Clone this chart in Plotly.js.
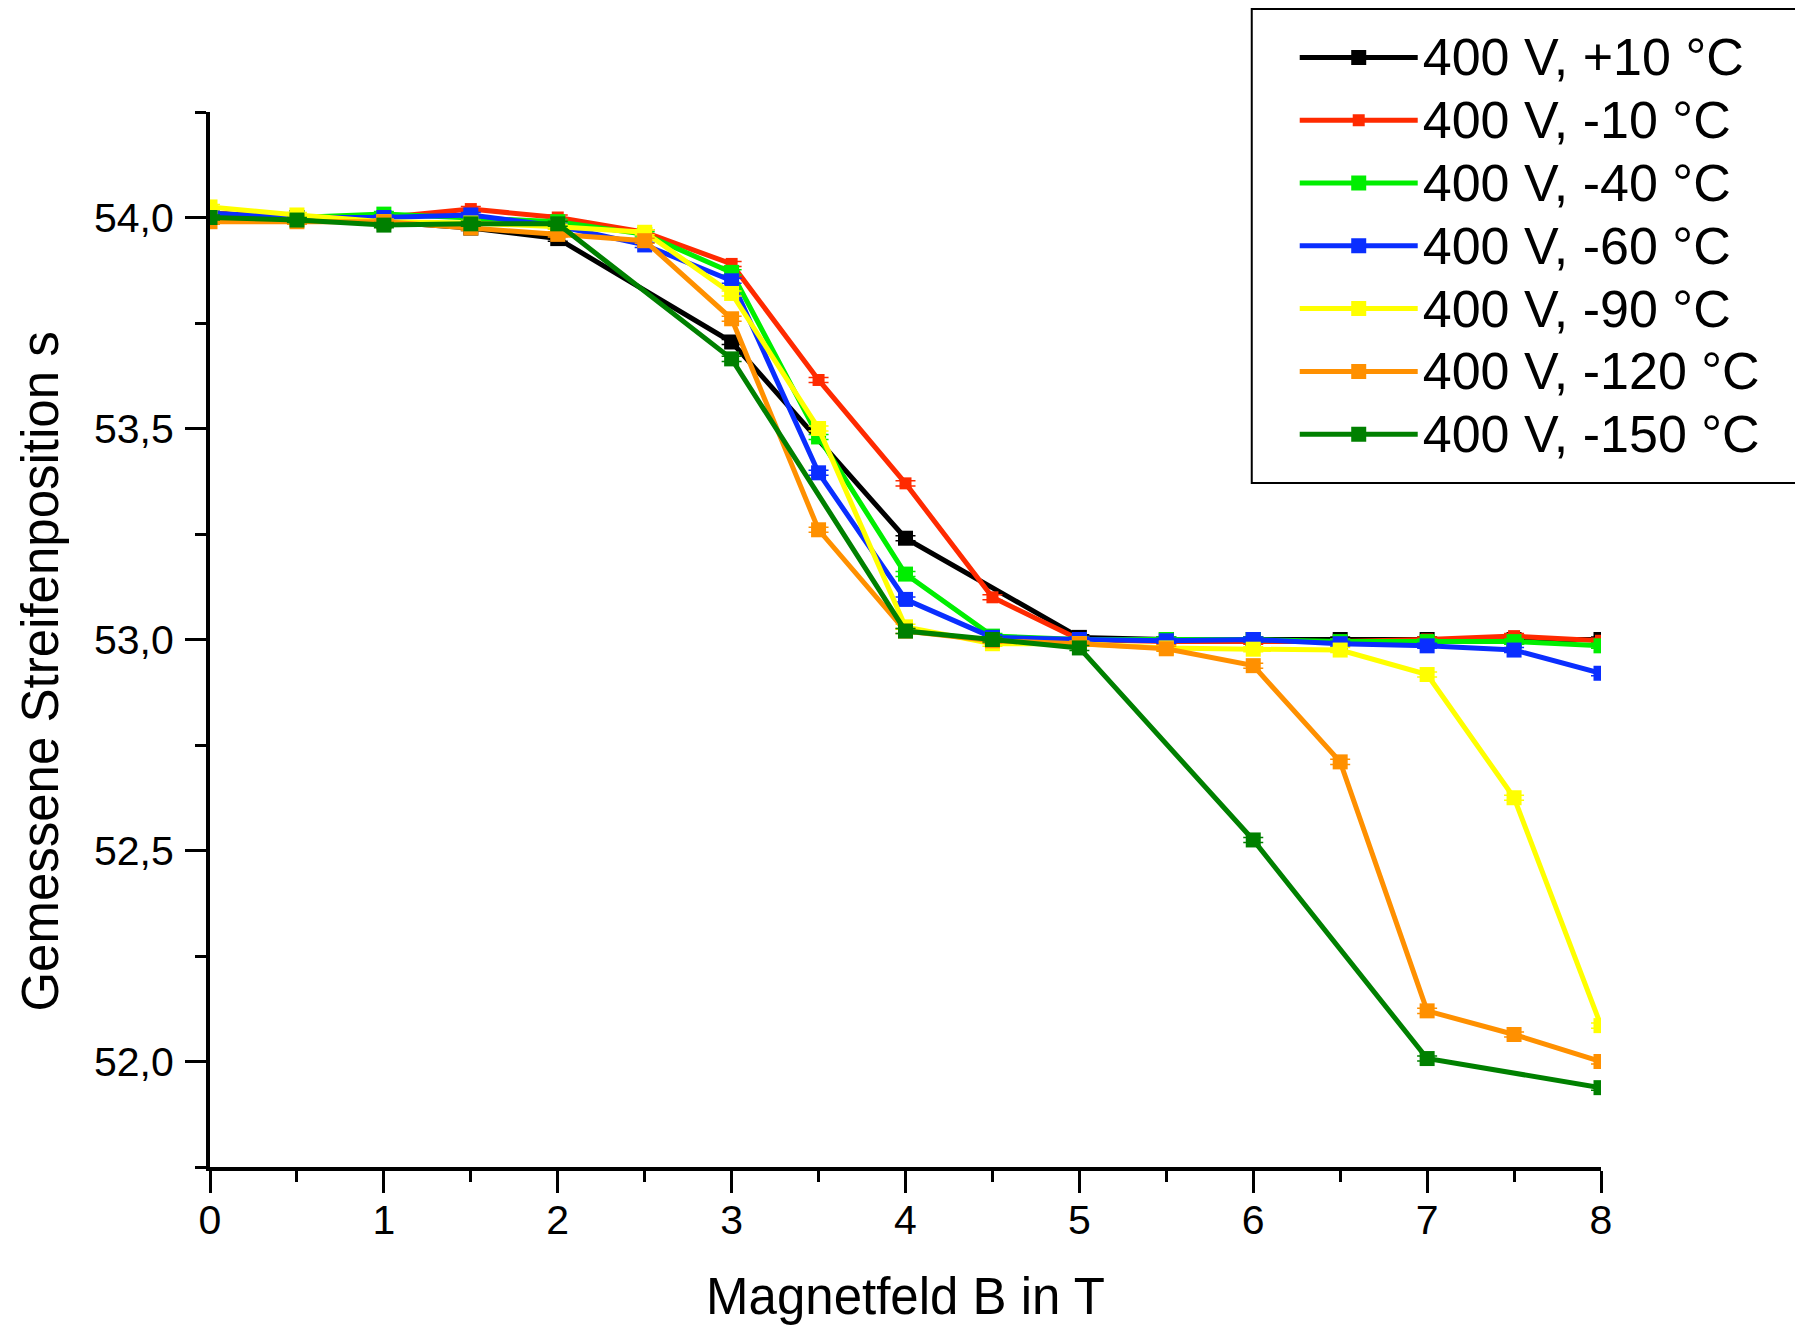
<!DOCTYPE html>
<html>
<head>
<meta charset="utf-8">
<script src="https://cdn.plot.ly/plotly-3.0.1.min.js"></script>
<style>html,body{margin:0;padding:0;background:#fff;}#chart{width:1795px;height:1325px;}</style>
</head>
<body>
<div id="chart"></div>
<script>
// Magnetic field B in T
const xFull = [0, 0.5, 1, 1.5, 2, 2.5, 3, 3.5, 4, 4.5, 5, 5.5, 6, 6.5, 7, 7.5, 8];
const xP10 = [0, 0.5, 1, 1.5, 2, 3, 4, 5, 5.5, 6, 6.5, 7, 7.5, 8];
const xM150 = [0, 0.5, 1, 1.5, 2, 3, 4, 4.5, 5, 6, 7, 8];

// measured stripe position s
const yP10  = [54.01, 54.0, 53.99, 53.975, 53.95, 53.705, 53.24, 53.005, 53.0, 53.0, 53.0, 53.0, 53.0, 53.0];
const yM10  = [54.01, 54.0, 54.0, 54.02, 54.0, 53.965, 53.89, 53.615, 53.37, 53.10, 53.0, 52.995, 52.995, 52.995, 53.0, 53.008, 52.997];
const yM40  = [54.0, 54.0, 54.008, 53.998, 53.99, 53.96, 53.87, 53.48, 53.155, 53.008, 53.0, 53.0, 53.0, 52.995, 52.995, 52.995, 52.985];
const yM60  = [54.01, 54.0, 54.0, 54.006, 53.98, 53.935, 53.85, 53.395, 53.095, 53.005, 53.0, 52.997, 53.0, 52.99, 52.985, 52.975, 52.92];
const yM90  = [54.025, 54.006, 53.99, 53.987, 53.978, 53.965, 53.82, 53.50, 53.03, 52.99, 52.99, 52.98, 52.977, 52.975, 52.917, 52.625, 52.085];
const yM120 = [53.99, 53.99, 53.99, 53.975, 53.96, 53.945, 53.76, 53.26, 53.02, 52.997, 52.99, 52.978, 52.938, 52.71, 52.12, 52.064, 52.0];
const yM150 = [54.0, 53.994, 53.982, 53.985, 53.985, 53.665, 53.02, 53.0, 52.98, 52.525, 52.007, 51.938];

const names = ['400 V, +10 °C', '400 V, -10 °C', '400 V, -40 °C', '400 V, -60 °C', '400 V, -90 °C', '400 V, -120 °C', '400 V, -150 °C'];
const colors = ['#000000', '#ff2a00', '#00ee00', '#0a2eff', '#ffff00', '#ff9000', '#008000'];
const xs = [xP10, xFull, xFull, xFull, xFull, xFull, xM150];
const ys = [yP10, yM10, yM40, yM60, yM90, yM120, yM150];
const msize = [15, 12, 15, 15, 15, 15, 15];
const xTitle = 'Magnetfeld B in T';
const yTitle = 'Gemessene Streifenposition s';

const traces = names.map((n, i) => ({
  type: 'scatter', mode: 'lines+markers',
  name: '<span style="font-size:52px">' + n + '</span>',
  x: xs[i], y: ys[i],
  line: {color: colors[i], width: 5},
  marker: {symbol: 'square', size: msize[i], color: colors[i]},
  error_y: {type: 'constant', value: 0.006, width: 10, thickness: 1.5, color: colors[i]}
}));

const FONT = 'Arial, "Liberation Sans", sans-serif';
const W = 1795, H = 1325, L = 209.5, R = 193.5, T = 112, B = 158;
const pw = W - L - R, ph = H - T - B;
const px = v => (v - L) / pw;
const py = v => (H - B - v) / ph;

const layout = {
  width: W, height: H,
  margin: {l: L, r: R, t: T, b: B, pad: 0},
  paper_bgcolor: '#ffffff', plot_bgcolor: '#ffffff',
  separators: ',.',
  font: {family: FONT, color: '#000000', size: 41},
  showlegend: true,
  legend: {
    x: px(1295), y: py(21), xanchor: 'left', yanchor: 'top',
    font: {family: FONT, size: 46, color: '#000000'},
    bgcolor: 'rgba(0,0,0,0)', borderwidth: 0,
    itemwidth: 118, itemsizing: 'trace', tracegroupgap: 0
  },
  xaxis: {
    range: [0, 8], dtick: 1, tick0: 0,
    showgrid: false, zeroline: false,
    showline: true, linecolor: '#000000', linewidth: 4,
    ticks: 'outside', ticklen: 22, tickwidth: 3, tickcolor: '#000000',
    ticklabelstandoff: -8,
    minor: {dtick: 0.5, ticks: 'outside', ticklen: 11, tickwidth: 3, tickcolor: '#000000', showgrid: false},
    tickfont: {family: FONT, size: 41},
    title: {text: xTitle, font: {family: FONT, size: 51}, standoff: 38},
    automargin: false
  },
  yaxis: {
    range: [51.75, 54.25], dtick: 0.5, tick0: 52,
    tickformat: '.1f',
    showgrid: false, zeroline: false,
    showline: true, linecolor: '#000000', linewidth: 4,
    ticks: 'outside', ticklen: 21, tickwidth: 3, tickcolor: '#000000',
    ticklabelstandoff: 3,
    minor: {dtick: 0.25, ticks: 'outside', ticklen: 11, tickwidth: 3, tickcolor: '#000000', showgrid: false},
    tickfont: {family: FONT, size: 41},
    automargin: false
  },
  annotations: [{
    text: yTitle, xref: 'paper', yref: 'paper',
    x: px(40), y: py(672), xanchor: 'center', yanchor: 'middle',
    textangle: -90, showarrow: false,
    font: {family: FONT, size: 51, color: '#000000'}
  }],
  shapes: [{
    type: 'rect', xref: 'paper', yref: 'paper',
    x0: px(1252), x1: px(1810), y0: py(483), y1: py(9),
    line: {color: '#000000', width: 2}, fillcolor: 'rgba(0,0,0,0)', layer: 'above'
  }]
};

Plotly.newPlot('chart', traces, layout, {displayModeBar: false, staticPlot: true});
</script>
</body>
</html>
